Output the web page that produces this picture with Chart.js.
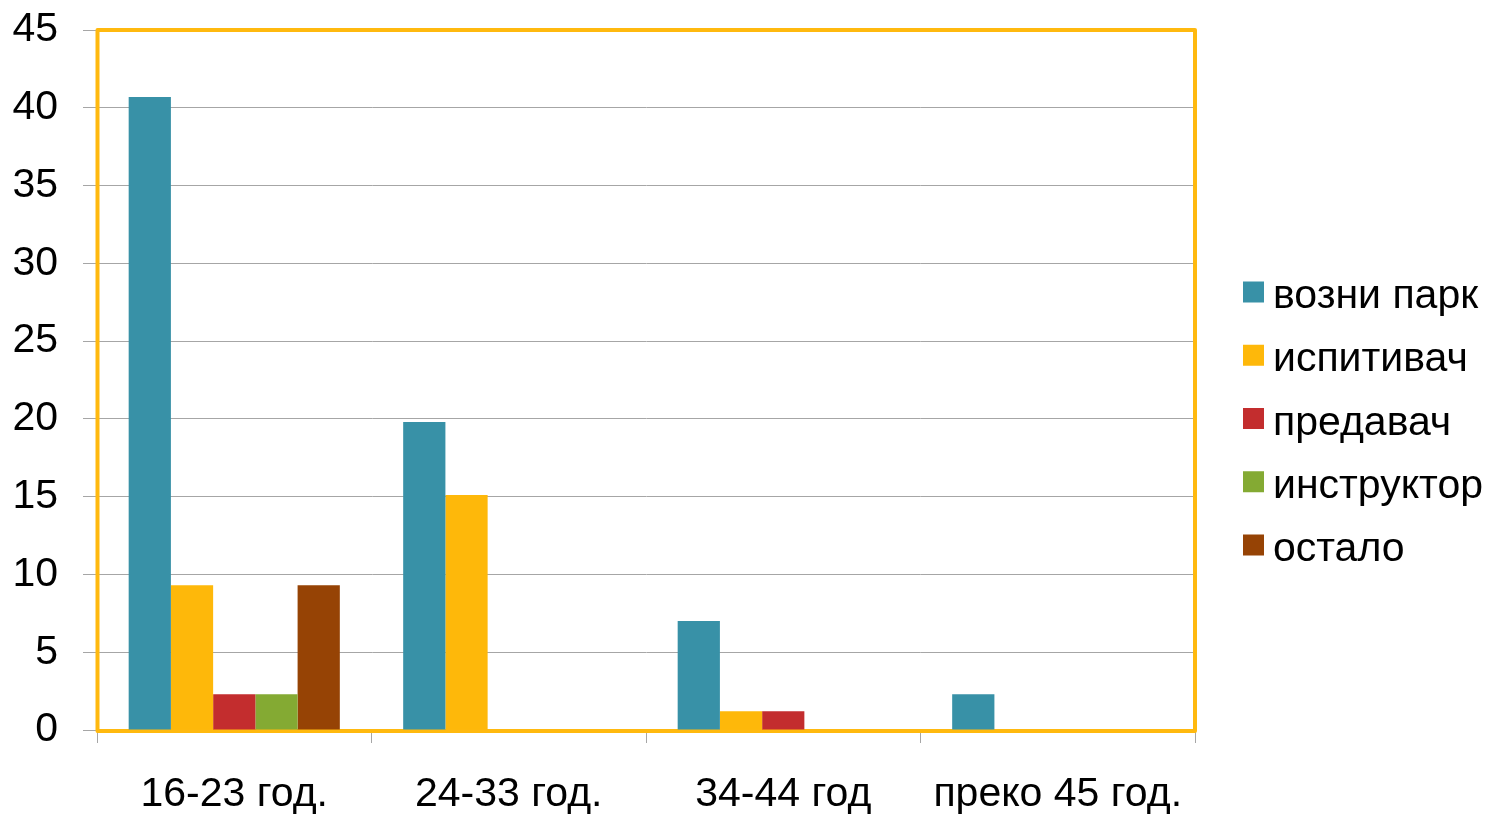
<!DOCTYPE html>
<html>
<head>
<meta charset="utf-8">
<title>Возрасне групе</title>
<script src="https://cdn.jsdelivr.net/npm/chart.js@4/dist/chart.umd.min.js"></script>
<style>
  html, body { margin: 0; padding: 0; background: #ffffff; }
  #wrap { width: 1491px; height: 815px; }
</style>
</head>
<body>
<div id="wrap"><canvas id="c" width="1491" height="815"></canvas></div>
<script>
// Age groups along the x axis
const categories = ['16-23 год.', '24-33 год.', '34-44 год', 'преко 45 год.'];

// One series per respondent type
const seriesNames = ['возни парк', 'испитивач', 'предавач', 'инструктор', 'остало'];
const vozniPark  = [40.7, 19.8, 7.0, 2.3];
const ispitivac  = [9.3, 15.1, 1.2, 0];
const predavac   = [2.3, 0, 1.2, 0];
const instruktor = [2.3, 0, 0, 0];
const ostalo     = [9.3, 0, 0, 0];

// Value axis ticks
const yTicks = [0, 5, 10, 15, 20, 25, 30, 35, 40, 45];

const colors = ['#3891A7', '#FEB80A', '#C32D2E', '#84AA33', '#964305'];
const FONT = '"Liberation Sans", Arial, "DejaVu Sans", sans-serif';
const FONT_SIZE = 41;
const GRID = '#A6A6A6';

const seriesValues = [vozniPark, ispitivac, predavac, instruktor, ostalo];
const datasets = seriesNames.map((name, i) => ({
  label: name,
  data: seriesValues[i],
  backgroundColor: colors[i],
  borderWidth: 0,
  barPercentage: 1.0,
  categoryPercentage: 5 / 6.5
}));

// Yellow frame around the plotting area, drawn beneath the bars
const plotFrame = {
  id: 'plotFrame',
  beforeDatasetsDraw(chart) {
    const { ctx, chartArea: a } = chart;
    ctx.save();
    ctx.strokeStyle = '#FFB90F';
    ctx.lineWidth = 4;
    ctx.lineJoin = 'round';
    ctx.strokeRect(a.left + 0.5, a.top, a.right - a.left - 0.5, a.bottom - a.top + 1);
    ctx.restore();
  }
};

// Legend at the right: square swatch followed by the series name
const sideLegend = {
  id: 'sideLegend',
  afterDraw(chart) {
    const { ctx } = chart;
    const x0 = 1243, box = 21, textX = 1273;
    const firstCenter = 292, step = 63.25;
    ctx.save();
    ctx.font = FONT_SIZE + 'px ' + FONT;
    ctx.textAlign = 'left';
    ctx.textBaseline = 'alphabetic';
    chart.data.datasets.forEach((ds, i) => {
      const cy = firstCenter + i * step;
      ctx.fillStyle = ds.backgroundColor;
      ctx.fillRect(x0, cy - box / 2, box, box);
      ctx.fillStyle = '#000000';
      ctx.fillText(ds.label, textX, cy + 16);
    });
    ctx.restore();
  }
};

new Chart(document.getElementById('c'), {
  type: 'bar',
  data: { labels: categories, datasets },
  plugins: [plotFrame, sideLegend],
  options: {
    responsive: false,
    devicePixelRatio: 1,
    animation: false,
    layout: { padding: { top: 30, right: 296, left: 0, bottom: 0 } },
    plugins: {
      legend: { display: false },
      tooltip: { enabled: false }
    },
    scales: {
      x: {
        grid: {
          display: true,
          drawOnChartArea: false,
          drawTicks: true,
          tickLength: 13,
          color: GRID,
          offset: true
        },
        border: { display: true, color: GRID },
        ticks: {
          color: '#000000',
          font: { size: FONT_SIZE, family: FONT },
          padding: 27,
          maxRotation: 0,
          autoSkip: false
        },
        afterFit(scale) {
          scale.height = 85;
          scale.paddingLeft = 0;
          scale.paddingRight = 0;
        }
      },
      y: {
        min: 0,
        max: 45,
        afterBuildTicks(scale) { scale.ticks = yTicks.map(v => ({ value: v })); },
        grid: { color: GRID, tickLength: 14, lineWidth: 1 },
        border: { display: true, color: GRID },
        ticks: {
          color: '#000000',
          font: { size: FONT_SIZE, family: FONT },
          padding: 25
        },
        afterFit(scale) {
          scale.width = 97;
          scale.paddingTop = 0;
          scale.paddingBottom = 0;
        }
      }
    }
  }
});
</script>
</body>
</html>
